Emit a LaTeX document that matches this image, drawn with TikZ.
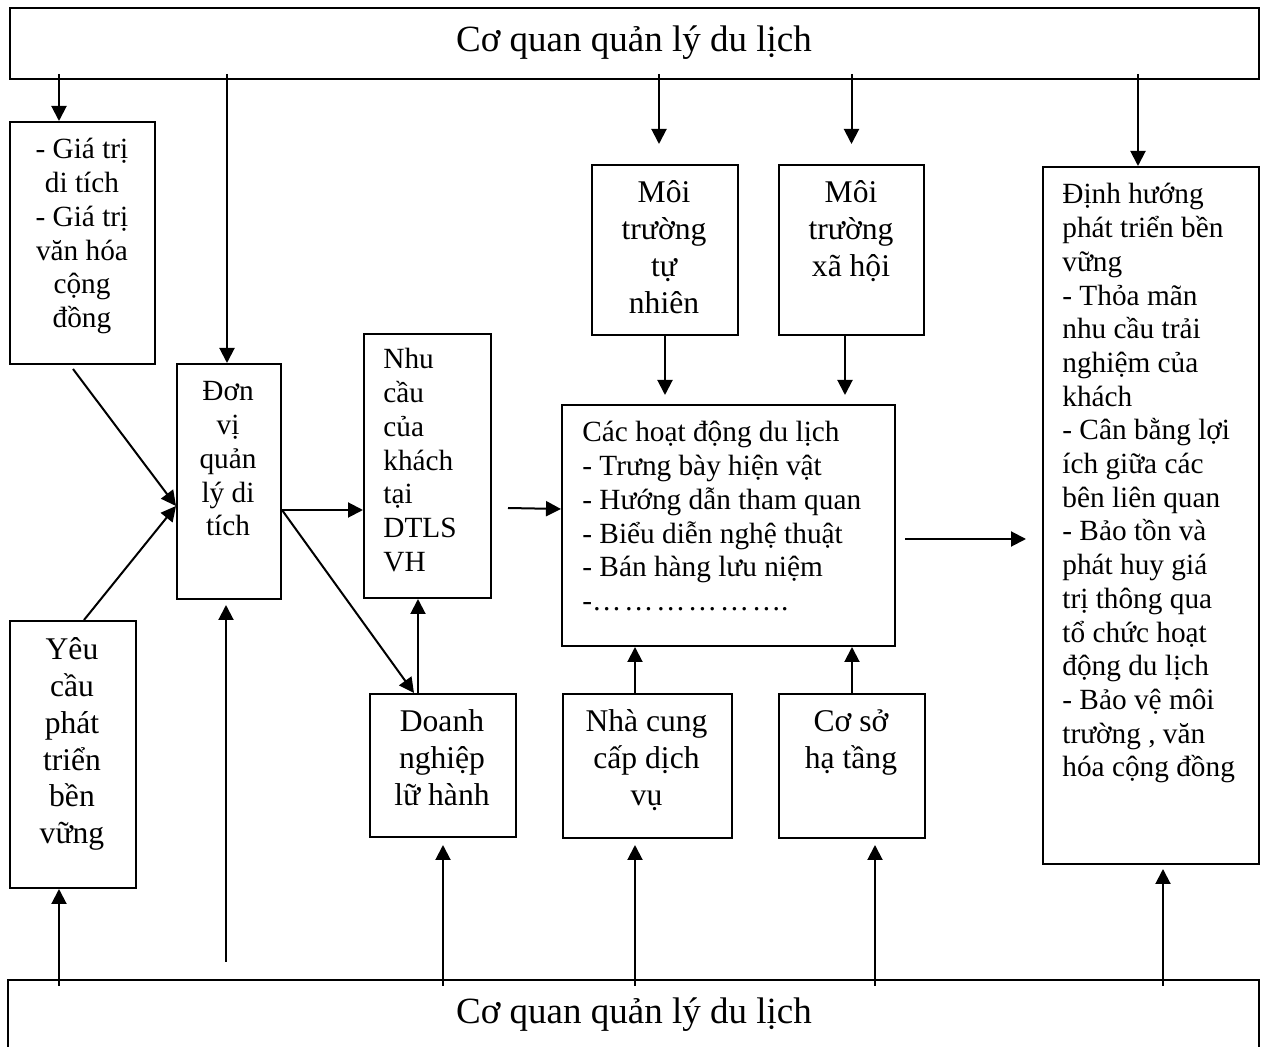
\documentclass[tikz,border=0pt]{standalone}
\usepackage{fontspec}
\setmainfont{Liberation Serif}
\usetikzlibrary{arrows.meta}
\begin{document}
\begin{tikzpicture}[x=0.5pt,y=-0.5pt,
  box/.style={draw, line width=1pt, inner sep=0pt, anchor=north west},
  txts/.style={inner sep=0pt, font=\fontsize{14.65pt}{16.85pt}\selectfont},
  txtm/.style={inner sep=0pt, font=\fontsize{15.8pt}{18.35pt}\selectfont},
  txtl/.style={inner sep=0pt, font=\fontsize{18.5pt}{22pt}\selectfont},
  arr/.style={line width=1pt, -{Triangle[length=7.5pt,width=7.5pt]}}]
\useasboundingbox (0,0) rectangle (1265,1047);
\clip (0,0) rectangle (1265,1047);

% boxes
\node[box, minimum width=624.5pt, minimum height=35.5pt] (top) at (9,7) {};
\node[box, minimum width=625.5pt, minimum height=50pt] (bot) at (7,979) {};
\node[box, minimum width=72.5pt, minimum height=121pt] (gt) at (9,121) {};
\node[box, minimum width=52pt, minimum height=117.5pt] (dv) at (176,363) {};
\node[box, minimum width=63.5pt, minimum height=132pt] (nc) at (363,333) {};
\node[box, minimum width=73pt, minimum height=85pt] (mt1) at (591,164) {};
\node[box, minimum width=72.5pt, minimum height=85pt] (mt2) at (778,164) {};
\node[box, minimum width=166.5pt, minimum height=120.5pt] (hd) at (561,404) {};
\node[box, minimum width=108pt, minimum height=348.5pt] (dh) at (1042,166) {};
\node[box, minimum width=63pt, minimum height=133.5pt] (yc) at (9,620) {};
\node[box, minimum width=73pt, minimum height=71.5pt] (dn) at (369,693) {};
\node[box, minimum width=84.5pt, minimum height=72pt] (ncc) at (562,693) {};
\node[box, minimum width=73pt, minimum height=72pt] (cs) at (778,693) {};

% texts
\node[txtl, anchor=base] (top-t) at (634,52) {Cơ quan quản lý du lịch};
\node[txtl, anchor=base] (bot-t) at (634,1023) {Cơ quan quản lý du lịch};
\node[txts, text width=66pt, align=flush center, anchor=base] (gt-t) at (82,159)
  {- Giá trị\\di tích\\- Giá trị\\văn hóa\\cộng\\đồng};
\node[txts, text width=50pt, align=flush center, anchor=base] (dv-t) at (228,401)
  {Đơn\\vị\\quản\\lý di\\tích};
\node[txts, text width=60pt, align=flush left, anchor=base west] (nc-t) at (383,369)
  {Nhu\\cầu\\của\\khách\\tại\\DTLS\\VH};
\node[txtm, text width=70pt, align=flush center, anchor=base] (mt1-t) at (664,203)
  {Môi\\trường\\tự\\nhiên};
\node[txtm, text width=70pt, align=flush center, anchor=base] (mt2-t) at (851,203)
  {Môi\\trường\\xã hội};
\node[txts, text width=160pt, align=flush left, anchor=base west] (hd-t) at (582,442)
  {Các hoạt động du lịch\\- Trưng bày hiện vật\\- Hướng dẫn tham quan\\- Biểu diễn nghệ thuật\\- Bán hàng lưu niệm\\-{\addfontfeature{LetterSpace=9}………………}.};
\node[txts, text width=100pt, align=flush left, anchor=base west] (dh-t) at (1062,204)
  {Định hướng\\phát triển bền\\vững\\- Thỏa mãn\\nhu cầu trải\\nghiệm của\\khách\\- Cân bằng lợi\\ích giữa các\\bên liên quan\\- Bảo tồn và\\phát huy giá\\trị thông qua\\tổ chức hoạt\\động du lịch\\- Bảo vệ môi\\trường , văn\\hóa cộng đồng};
\node[txtm, text width=62pt, align=flush center, anchor=base] (yc-t) at (72,660)
  {Yêu\\cầu\\phát\\triển\\bền\\vững};
\node[txtm, text width=72pt, align=flush center, anchor=base] (dn-t) at (442,732)
  {Doanh\\nghiệp\\lữ hành};
\node[txtm, text width=84pt, align=flush center, anchor=base] (ncc-t) at (646.5,732)
  {Nhà cung\\cấp dịch\\vụ};
\node[txtm, text width=72pt, align=flush center, anchor=base] (cs-t) at (851,732)
  {Cơ sở\\hạ tầng};

% arrows from the upper authority
\coordinate (e1) at ([xshift=-11.75pt]gt.north);
\draw[arr] (e1 |- top.south) ++(0,-6) -- (e1);
\coordinate (e2) at ([xshift=-1pt]dv.north);
\draw[arr] (e2 |- top.south) ++(0,-6) -- (e2);
\coordinate (e3) at ([xshift=-3pt]mt1.north);
\draw[arr, shorten >=10pt] (e3 |- top.south) ++(0,-6) -- (e3);
\draw[arr, shorten >=10pt] (mt2.north |- top.south) ++(0,-6) -- (mt2.north);
\coordinate (e5) at ([xshift=-6.5pt]dh.north);
\draw[arr] (e5 |- top.south) ++(0,-6) -- (e5);

% environments into activities
\draw[arr, shorten >=4.5pt] (mt1.south) -- (mt1.south |- hd.north);
\coordinate (e7) at ([xshift=-3.25pt]mt2.south);
\draw[arr, shorten >=4.5pt] (e7) -- (e7 |- hd.north);

% into the site management unit
\coordinate (dvin) at ([yshift=-12.25pt]dv.west);
\draw[arr] ([xshift=-4.75pt,yshift=-2pt]gt.south) -- (dvin);
\draw[arr] ([xshift=5.5pt]yc.north) -- (dvin);
\coordinate (dvfree) at (226,962);
\draw[arr, shorten >=2.5pt] (dvfree) -- (dvfree |- dv.south);

% out of the site management unit
\coordinate (dvout) at ([yshift=-14.25pt]dv.east);
\draw[arr] (dvout) -- (dvout -| nc.west);
\draw[arr] (dvout) -- ([xshift=-14.5pt]dn.north);
\coordinate (dnup) at ([xshift=-12.5pt]dn.north);
\draw[arr] (dnup) -- (dnup |- nc.south);

% activities
\coordinate (hdsrc) at (508,508);
\coordinate (hdin) at ([yshift=8.25pt]hd.west);
\draw[arr] (hdsrc) -- (hdin);
\coordinate (hdout) at ([yshift=-6.75pt]hd.east);
\draw[arr, shorten <=4.5pt, shorten >=8pt] (hdout) -- (hdout -| dh.west);
\coordinate (e19) at ([xshift=-6.25pt]ncc.north);
\draw[arr] (e19) -- (e19 |- hd.south);
\draw[arr] (cs.north) -- (cs.north |- hd.south);

% arrows from the lower authority
\coordinate (e14) at ([xshift=-7pt]yc.south);
\draw[arr] (e14 |- bot.north) ++(0,7) -- (e14);
\draw[arr, shorten >=3.5pt] (dn.south |- bot.north) ++(0,7) -- (dn.south);
\coordinate (e16) at ([xshift=-6.25pt]ncc.south);
\draw[arr, shorten >=3pt] (e16 |- bot.north) ++(0,7) -- (e16);
\coordinate (e17) at ([xshift=11.5pt]cs.south);
\draw[arr, shorten >=3pt] (e17 |- bot.north) ++(0,7) -- (e17);
\coordinate (e18) at ([xshift=6pt]dh.south);
\draw[arr, shorten >=2pt] (e18 |- bot.north) ++(0,7) -- (e18);
\end{tikzpicture}
\end{document}
